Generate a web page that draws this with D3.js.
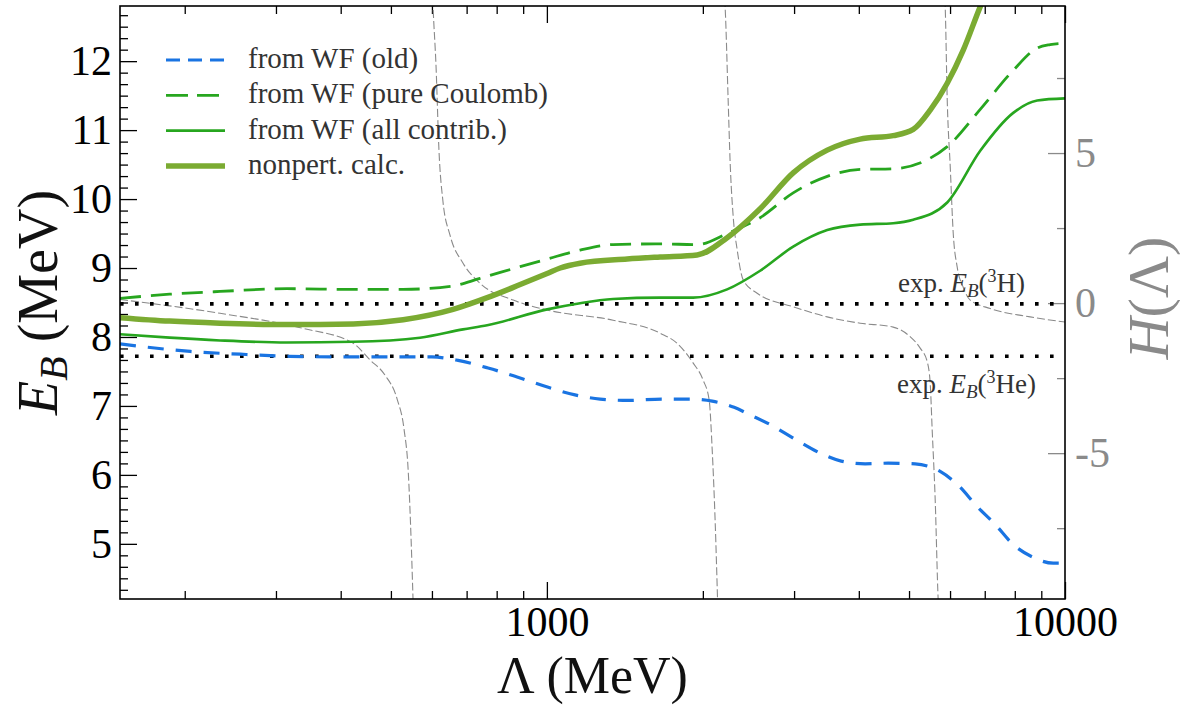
<!DOCTYPE html>
<html>
<head>
<meta charset="utf-8">
<script src="https://cdn.jsdelivr.net/npm/d3@7"></script>
<style>
  body { margin: 0; background: #fff; }
  text { font-family: "Liberation Serif", "DejaVu Serif", serif; }
</style>
</head>
<body>
<svg id="chart" width="1180" height="706"></svg>
<script>
// binding energy vs cutoff
const lamOld = [150,175,205,256,319,417,521,600,674,770,876,1006,1133,1267,1435,1669,1890,2085,2298,2468,2697,3041,3339,3699,4114,4557,5138,5742,6221,6770,7335,7944,8644,9491,10000];
const ebOld  = [7.90,7.84,7.79,7.75,7.72,7.71,7.71,7.71,7.66,7.55,7.42,7.27,7.16,7.10,7.08,7.10,7.10,7.07,6.98,6.87,6.73,6.50,6.33,6.20,6.16,6.17,6.16,6.05,5.85,5.54,5.28,4.99,4.81,4.72,4.72];

const lamCoul = [150,187,234,315,423,528,659,743,888,1001,1159,1342,1654,1950,2228,2580,2988,3476,4025,4660,5421,5925,6861,7908,8838,9360,10000];
const ebCoul  = [8.56,8.62,8.66,8.70,8.69,8.69,8.74,8.85,9.02,9.13,9.26,9.34,9.35,9.34,9.50,9.73,10.09,10.33,10.43,10.44,10.57,10.76,11.30,11.85,12.19,12.24,12.26];

const lamAll = [150,187,234,315,423,569,689,767,1001,1159,1342,1654,1916,2228,2580,2988,3476,4025,4660,5094,5925,6861,7944,8838,10000];
const ebAll  = [8.04,7.99,7.95,7.92,7.93,7.99,8.11,8.17,8.40,8.49,8.55,8.57,8.57,8.69,8.96,9.31,9.55,9.63,9.65,9.70,9.95,10.70,11.25,11.43,11.46];

const lamNp = [150,187,234,315,423,528,659,767,888,1001,1061,1159,1429,1654,1950,2228,2580,2988,3476,4025,4660,5094,5493,5925,6362,6861,7335];
const ebNp  = [8.28,8.23,8.20,8.18,8.19,8.25,8.40,8.57,8.76,8.92,9.00,9.07,9.13,9.16,9.19,9.44,9.86,10.38,10.71,10.87,10.92,11.01,11.29,11.68,12.16,12.79,13.30];

// H(Lambda), four branches between the poles
const hLam = [
  [150,234,338,423,456,487,514,530,540,547,553],
  [601,603,611,619,630,650,689,743,861,1001,1342,1654,1784,1916,2003,2057,2085,2112,2140],
  [2195,2208,2238,2257,2289,2330,2393,2546,2988,3476,4025,4660,5025,5254,5421,5493,5542,5617,5692,5718],
  [5845,5872,5925,6005,6085,6194,6362,6563,7172,8568,10000]
];
const hVal = [
  [0.12,-0.34,-0.84,-1.34,-1.9,-2.4,-3.2,-4.2,-5.6,-7.9,-10.5],
  [10.5,9.87,7.9,5.1,3.4,2.27,1.33,0.66,0.1,-0.23,-0.57,-1.0,-1.34,-2.0,-2.57,-3.23,-4.9,-7.23,-10.5],
  [10.5,9.87,6.77,4.77,2.87,1.77,0.77,0.33,-0.12,-0.46,-0.67,-0.8,-1.12,-1.5,-1.95,-2.67,-4.23,-6.57,-9.9,-10.5],
  [10.5,9.87,6.77,4.54,2.33,1.2,0.53,0.1,-0.18,-0.46,-0.63]
];

const expLevels = [8.48, 7.72];   // 3H, 3He
const legendNames = ["from WF (old)", "from WF (pure Coulomb)", "from WF (all contrib.)", "nonpert. calc."];

const xMajor = [1000, 10000];
const xMinor = [200,300,400,500,600,700,800,900,2000,3000,4000,5000,6000,7000,8000,9000];
const yMajor = [5,6,7,8,9,10,11,12];
const hMajor = [-5,0,5];
const hMinor = [-7.5,-2.5,2.5,7.5];

const L = 120, R = 1065, T = 6, B = 599;
const svg = d3.select("#chart");
const gray = "#8a8a8a";

const x = d3.scaleLog().domain([150, 10000]).range([L, R]);
const y = d3.scaleLinear().domain([4.2, 12.8]).range([B, T]);
const yH = d3.scaleLinear().domain([-9.86, 9.9]).range([B, T]);

let yMinor = [];
for (let v = 4.2; v < 12.8; v += 1 / 6) {
  let r = Math.round(v * 6) / 6;
  if (r > 4.2 && Math.abs(r - Math.round(r)) > 0.01) yMinor.push(r);
}

svg.append("defs").append("clipPath").attr("id", "clip")
  .append("rect").attr("x", L).attr("y", T).attr("width", R - L).attr("height", B - T);

// ticks
function drawAxis(axis, tx, ty, color) {
  let g = svg.append("g").attr("transform", "translate(" + tx + "," + ty + ")").call(axis);
  g.select(".domain").remove();
  g.selectAll("line").attr("stroke", color).attr("stroke-width", 1.3);
  g.selectAll("text").attr("fill", color).style("font-size", "42px")
    .style("font-family", '"Liberation Serif", serif');
  return g;
}
drawAxis(d3.axisBottom(x).tickValues(xMinor).tickSize(-8).tickFormat(""), 0, B, "#000");
drawAxis(d3.axisBottom(x).tickValues(xMajor).tickSize(-17).tickPadding(7).tickFormat(d3.format("d")), 0, B, "#000");
drawAxis(d3.axisTop(x).tickValues(xMinor).tickSize(-8).tickFormat(""), 0, T, "#000");
drawAxis(d3.axisTop(x).tickValues(xMajor).tickSize(-17).tickFormat(""), 0, T, "#000");
drawAxis(d3.axisLeft(y).tickValues(yMinor).tickSize(-8).tickFormat(""), L, 0, "#000");
drawAxis(d3.axisLeft(y).tickValues(yMajor).tickSize(-17).tickPadding(8).tickFormat(d3.format("d")), L, 0, "#000");
drawAxis(d3.axisRight(yH).tickValues(hMinor).tickSize(-8).tickFormat(""), R, 0, gray);
drawAxis(d3.axisRight(yH).tickValues(hMajor).tickSize(-17).tickPadding(10).tickFormat(d => d < 0 ? "-" + (-d) : d), R, 0, gray);

let plot = svg.append("g").attr("clip-path", "url(#clip)");

// H(Lambda)
let hLine = d3.line().x(d => x(d[0])).y(d => yH(d[1])).curve(d3.curveMonotoneX);
hLam.forEach(function (lams, i) {
  plot.append("path").datum(d3.zip(lams, hVal[i]))
    .attr("d", hLine).attr("fill", "none")
    .attr("stroke", gray).attr("stroke-width", 1.1).attr("stroke-dasharray", "8,3");
});

// experimental values
expLevels.forEach(function (e) {
  plot.append("line")
    .attr("x1", x(150)).attr("x2", x(10000)).attr("y1", y(e)).attr("y2", y(e))
    .attr("stroke", "#000").attr("stroke-width", 3.6).attr("stroke-dasharray", "3.6,11.4");
});

let line = d3.line().x(d => x(d[0])).y(d => y(d[1])).curve(d3.curveMonotoneX);
let series = [
  { lam: lamOld, eb: ebOld, color: "#1a74e2", width: 3.2, dash: "16,12" },
  { lam: lamCoul, eb: ebCoul, color: "#27a61f", width: 2.8, dash: "21,10" },
  { lam: lamAll, eb: ebAll, color: "#27a61f", width: 2.6, dash: null },
  { lam: lamNp, eb: ebNp, color: "#7bab32", width: 5.5, dash: null }
];
series.forEach(function (s) {
  plot.append("path").datum(d3.zip(s.lam, s.eb))
    .attr("d", line).attr("fill", "none")
    .attr("stroke", s.color).attr("stroke-width", s.width)
    .attr("stroke-dasharray", s.dash);
});

// frame
svg.append("rect").attr("x", L).attr("y", T).attr("width", R - L).attr("height", B - T)
  .attr("fill", "none").attr("stroke", "#000").attr("stroke-width", 1.6);

// legend
let legend = svg.append("g");
series.forEach(function (s, i) {
  let ly = 60 + i * 35.3;
  legend.append("line").attr("x1", 166).attr("x2", 225).attr("y1", ly).attr("y2", ly)
    .attr("stroke", s.color).attr("stroke-width", s.width)
    .attr("stroke-dasharray", s.dash ? (i === 0 ? "14,8" : "22,9") : null);
  legend.append("text").attr("x", 248).attr("y", ly + 8)
    .attr("fill", "#333").style("font-size", "29px").text(legendNames[i]);
});

// labels for the experimental lines
function expLabel(xr, yb, nucl) {
  let t = svg.append("text").attr("x", xr).attr("y", yb).attr("text-anchor", "end")
    .attr("fill", "#333").style("font-size", "27px");
  t.append("tspan").text("exp.  ");
  t.append("tspan").style("font-style", "italic").text("E");
  t.append("tspan").style("font-style", "italic").style("font-size", "19px").attr("dy", 5).text("B");
  t.append("tspan").attr("dy", -5).text("(");
  t.append("tspan").style("font-size", "18px").attr("dy", -10).text("3");
  t.append("tspan").attr("dy", 10).text(nucl + ")");
}
expLabel(1025, 292, "H");
expLabel(1036, 393, "He");

// axis titles
let xt = svg.append("text").attr("x", (L + R) / 2).attr("y", 693).attr("text-anchor", "middle")
  .style("font-size", "52px").attr("fill", "#111");
xt.append("tspan").text("\u039B (MeV)");

let yt = svg.append("text").attr("transform", "translate(57," + (T + B) / 2 + ") rotate(-90)")
  .attr("text-anchor", "middle").style("font-size", "56px").attr("fill", "#111");
yt.append("tspan").style("font-style", "italic").text("E");
yt.append("tspan").style("font-style", "italic").style("font-size", "40px").attr("dy", 10).text("B");
yt.append("tspan").attr("dy", -10).text(" (MeV)");

let ht = svg.append("text").attr("transform", "translate(1168,298) rotate(-90)")
  .attr("text-anchor", "middle").style("font-size", "58px").attr("fill", gray);
ht.append("tspan").style("font-style", "italic").text("H");
ht.append("tspan").text("(\u039B)");
</script>
</body>
</html>
